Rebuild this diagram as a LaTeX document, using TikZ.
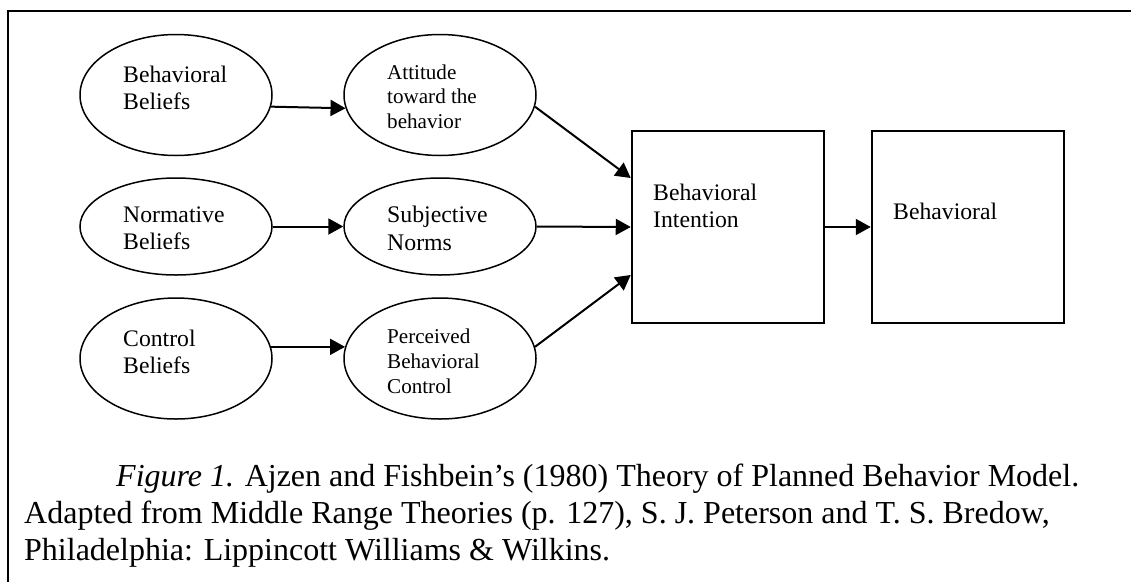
\documentclass[tikz,border=0pt]{standalone}
\usepackage{fontspec}
\setmainfont{Liberation Serif}
\usetikzlibrary{shapes.geometric,arrows.meta}
\newcommand{\mlines}[1]{\begin{tabular}[t]{@{}l@{}}#1\end{tabular}}
\begin{document}
\begin{tikzpicture}[x=1pt,y=-1pt,
  oval/.style={draw,ellipse,line width=1.5pt,inner sep=0pt,minimum width=192pt},
  sq/.style={draw,rectangle,line width=2.5pt,inner sep=0pt,minimum width=192pt,minimum height=192pt},
  arr/.style={-{Triangle[length=15pt,width=16pt]},line width=2pt},
  txt/.style={anchor=base west,inner sep=0pt,font=\fontsize{23.7}{27}\selectfont},
  smalltxt/.style={anchor=base west,inner sep=0pt,font=\fontsize{21.1}{24.5}\selectfont},
  captxt/.style={anchor=base west,inner sep=0pt,font=\fontsize{32}{36}\selectfont},
  frame/.style={line width=2.5pt}
]
\useasboundingbox (0,0) rectangle (1131,582);
\draw[frame] (1131,11) -- (8,11) -- (8,582);

% ellipses
\node[oval,minimum height=121pt] (bb) at (176,95) {};
\node[oval,minimum height=97pt]  (nb) at (176,226.5) {};
\node[oval,minimum height=121pt] (cb) at (176,358.5) {};
\node[oval,minimum height=121pt] (at) at (440,95) {};
\node[oval,minimum height=97pt]  (sn) at (440,226.5) {};
\node[oval,minimum height=121pt] (pb) at (440,358.5) {};

% boxes
\node[sq] (bi) at (728,227) {};
\node[sq] (bh) at (968,227) {};

% texts
\node[txt] (bbt) at (123,82) {\mlines{Behavioral\\Beliefs}};
\node[txt] (nbt) at (123,222) {\mlines{Normative\\Beliefs}};
\node[txt] (cbt) at (123,346) {\mlines{Control\\Beliefs}};
\node[smalltxt] (att) at (387,79) {\mlines{Attitude\\toward the\\behavior}};
\node[anchor=base west,inner sep=0pt,font=\fontsize{23.8}{28}\selectfont] (snt) at (387,222) {\mlines{Subjective\\Norms}};
\node[anchor=base west,inner sep=0pt,font=\fontsize{21.1}{25}\selectfont] (pbt) at (387,343) {\mlines{Perceived\\Behavioral\\Control}};
\node[txt] (bit) at (653,200) {\mlines{Behavioral\\Intention}};
\node[txt] (bht) at (893,219) {Behavioral};

% arrows
\draw[arr] (bb.-7.3) -- (at.-172.7);
\draw[arr] (nb.east) -- (sn.west);
\draw[arr] (cb.7) -- (pb.173);
\draw[arr] (at.-7.3) -- ([yshift=49pt]bi.west);
\draw[arr] (sn.east) -- (bi.west);
\draw[arr] (pb.7) -- ([yshift=-48pt]bi.west);
\draw[arr] (bi.east) -- (bh.west);

% caption
\node[captxt] (cap1) at (116,486) {\textit{Figure 1.} Ajzen and Fishbein’s (1980) Theory of Planned Behavior Model.};
\node[captxt] (cap2) at (24,523) {Adapted from Middle Range Theories (p. 127), S. J. Peterson and T. S. Bredow,};
\node[captxt] (cap3) at (24,560) {Philadelphia: Lippincott Williams \& Wilkins.};
\end{tikzpicture}
\end{document}
